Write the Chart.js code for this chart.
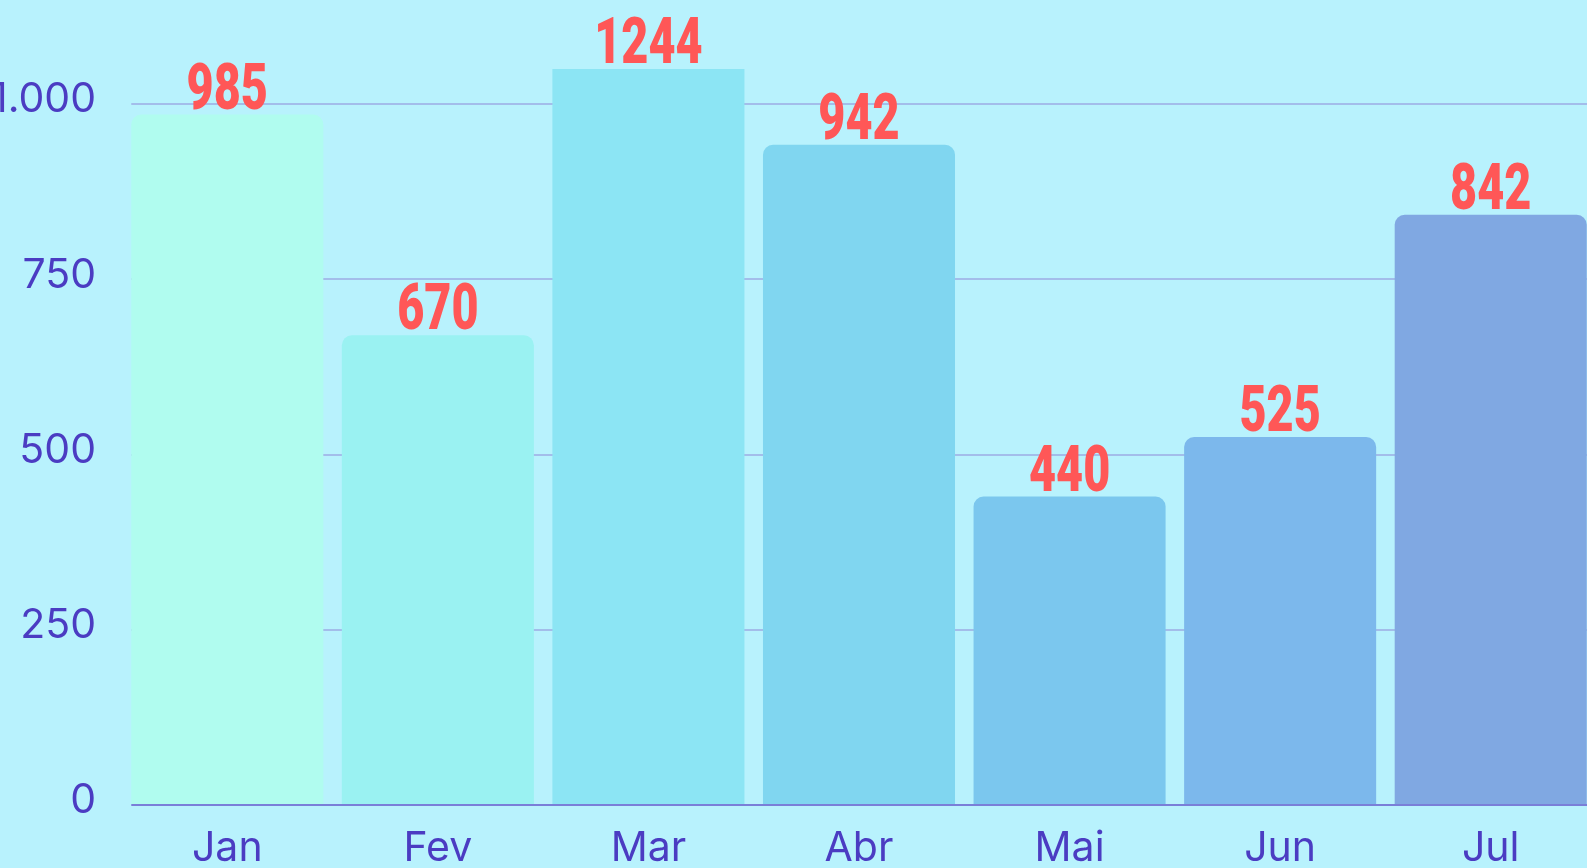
<!DOCTYPE html>
<html><head><meta charset="utf-8">
<script src="https://cdn.jsdelivr.net/npm/chart.js@4/dist/chart.umd.min.js"></script>
<style>
html,body{margin:0;padding:0;overflow:hidden;background:#b8f2fd;width:1587px;height:868px}
#wrap{position:absolute;left:0;top:0;width:1596px;height:868px}
</style></head><body>
<div id="wrap"><canvas id="c"></canvas></div>
<script>
const months = ['Jan','Fev','Mar','Abr','Mai','Jun','Jul'];
const sales = [985, 670, 1244, 942, 440, 525, 842];
const barColors = ['#b0fcef','#9af2f2','#8ce5f4','#80d6f0','#7bc7ee','#7cb8ec','#80a8e2'];
const yTickValues = [0, 250, 500, 750, 1000];
const yTickLabels = ['0', '250', '500', '750', '1.000'];
const yMin = 0;
const yMax = 1050;

const BG = '#b8f2fd';
const TICK_COLOR = '#4b3cc2';
const LABEL_COLOR = '#ff5757';

const coverPlugin = {
  id: 'cover',
  beforeDatasetsDraw(chart) {
    const meta = chart.getDatasetMeta(0);
    const first = meta.data[0];
    if (!first) return;
    const left = first.x - first.width / 2;
    const a = chart.chartArea;
    const ctx = chart.ctx;
    ctx.save();
    ctx.fillStyle = BG;
    ctx.fillRect(a.left - 3, a.top, left - a.left + 3, a.bottom - a.top + 5);
    ctx.restore();
  }
};

const labelPlugin = {
  id: 'valueLabels',
  afterDatasetsDraw(chart) {
    const ctx = chart.ctx;
    const meta = chart.getDatasetMeta(0);
    const a = chart.chartArea;
    meta.data.forEach((el, i) => {
      const y = Math.max(el.y, a.top) - 6;
      ctx.save();
      ctx.translate(el.x, y);
      ctx.scale(0.72, 1);
      ctx.font = '900 65px Roboto';
      ctx.fillStyle = LABEL_COLOR;
      ctx.textAlign = 'center';
      ctx.textBaseline = 'alphabetic';
      ctx.fillText(String(sales[i]), 0, 0);
      ctx.restore();
    });
  }
};

new Chart(document.getElementById('c'), {
  type: 'bar',
  data: {
    labels: months,
    datasets: [{
      data: sales,
      backgroundColor: barColors,
      borderRadius: {topLeft: 10, topRight: 10, bottomLeft: 0, bottomRight: 0},
      borderSkipped: false,
      barPercentage: 0.912,
      categoryPercentage: 1,
      clip: 0
    }]
  },
  options: {
    responsive: true,
    maintainAspectRatio: false,
    animation: false,
    layout: {padding: {top: 69, left: 0, right: 0, bottom: 0}},
    plugins: {legend: {display: false}, tooltip: {enabled: false}},
    scales: {
      x: {
        grid: {display: false},
        border: {display: true, color: '#7a7fd8', width: 2},
        ticks: {color: TICK_COLOR, font: {family: 'Inter', size: 41}, padding: 11},
        afterFit(scale) { scale.height = 63; }
      },
      y: {
        min: yMin,
        max: yMax,
        afterBuildTicks(scale) { scale.ticks = yTickValues.map(v => ({value: v})); },
        grid: {
          color: ctx => (ctx.tick && ctx.tick.value === 0) ? 'rgba(0,0,0,0)' : '#a3bdea',
          lineWidth: 2,
          drawTicks: false
        },
        border: {display: false},
        ticks: {
          color: TICK_COLOR,
          font: {family: 'Inter', size: 41},
          padding: 26,
          labelOffset: -4,
          callback: (v) => yTickLabels[yTickValues.indexOf(v)]
        },
        afterFit(scale) { scale.width = 122; }
      }
    }
  },
  plugins: [coverPlugin, labelPlugin]
});
</script>
</body></html>
